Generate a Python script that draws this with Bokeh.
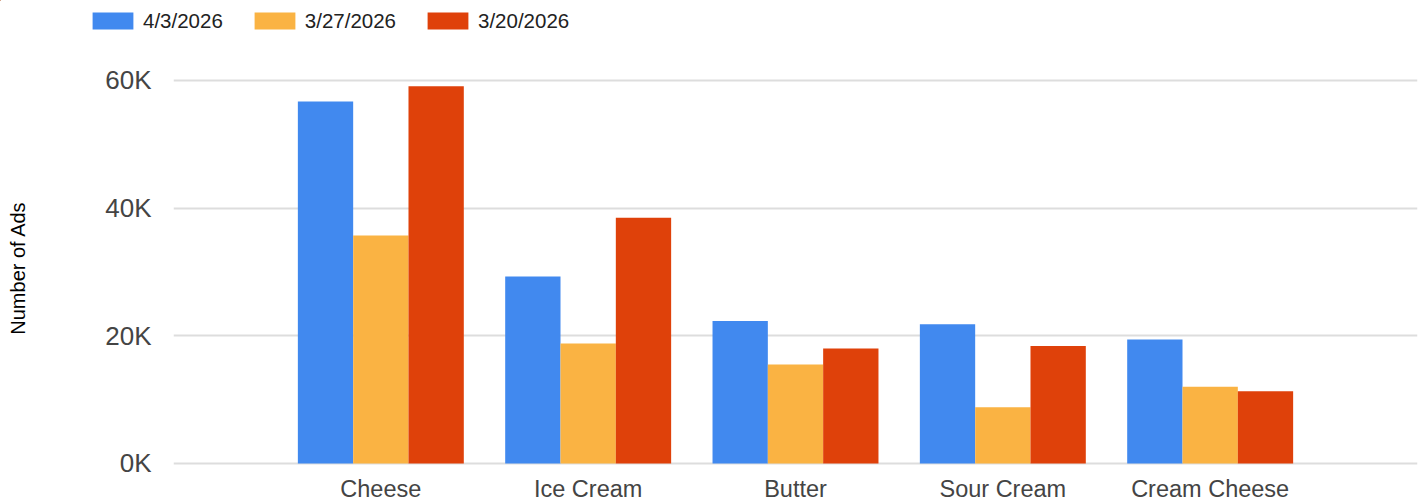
from bokeh.plotting import figure
from bokeh.layouts import column
from bokeh.models import ColumnDataSource, Range1d, FixedTicker, Legend, LegendItem, Column
from bokeh.transform import dodge
from bokeh.embed import file_html
from bokeh.resources import INLINE

categories = ["Cheese", "Ice Cream", "Butter", "Sour Cream", "Cream Cheese"]
series_names = ["4/3/2026", "3/27/2026", "3/20/2026"]
ads_apr_3 = [56700, 29300, 22300, 21800, 19400]
ads_mar_27 = [35700, 18800, 15500, 8800, 12000]
ads_mar_20 = [59100, 38500, 18000, 18400, 11300]
y_ticks = [0, 20000, 40000, 60000]
y_tick_labels = ["0K", "20K", "40K", "60K"]
colors = ["#4189EF", "#FAB343", "#DF410A"]

FONT = "Liberation Sans"

source = ColumnDataSource(dict(
    pos=list(range(len(categories))),
    a=ads_apr_3, b=ads_mar_27, c=ads_mar_20,
))
cols = ["a", "b", "c"]
bw = 0.2668
offsets = [-bw, 0.0, bw]

# ---- legend strip (top); its bar renderers sit outside its view ----
leg_fig = figure(width=1420, height=60, output_backend="svg", toolbar_location=None,
                 x_range=Range1d(100.0, 101.0), y_range=Range1d(-2.0e6, -1.0e6),
                 x_axis_location=None, y_axis_location=None, min_border=0)
leg_fig.grid.visible = False
leg_fig.outline_line_color = None
leg_renderers = []
for col, off, colr in zip(cols, offsets, colors):
    r = leg_fig.vbar(x=dodge("pos", off), top=col, bottom=0, width=bw, source=source,
                     fill_color=colr, line_color=None)
    leg_renderers.append(r)
legend = Legend(
    items=[LegendItem(label=n, renderers=[r]) for n, r in zip(series_names, leg_renderers)],
    orientation="horizontal", location=(87, 27.5),
    glyph_width=51, glyph_height=21, label_height=24, label_standoff=5, spacing=26,
    padding=0, margin=0, border_line_color=None, background_fill_alpha=0,
    label_text_font=FONT, label_text_font_size="20.5px", label_text_color="#222222",
)
leg_fig.add_layout(legend)

# ---- main chart ----
p = figure(width=1420, height=444, output_backend="svg", toolbar_location=None,
           x_range=Range1d(-1.0, 5.0), y_range=Range1d(-1894, 63131),
           min_border=0, min_border_top=0, min_border_left=173, min_border_right=3)

for col, off, colr in zip(cols, offsets, colors):
    p.vbar(x=dodge("pos", off), top=col, bottom=0, width=bw, source=source,
           fill_color=colr, line_color=None)

xa = p.xaxis[0]
xa.ticker = FixedTicker(ticks=list(range(len(categories))), minor_ticks=[])
xa.major_label_overrides = {i: c for i, c in enumerate(categories)}
xa.axis_line_color = None
xa.major_tick_line_color = None
xa.minor_tick_line_color = None
xa.major_tick_in = 0
xa.major_tick_out = 0
xa.major_label_standoff = 0
xa.major_label_text_font = FONT
xa.major_label_text_font_size = "23.5px"
xa.major_label_text_color = "#444444"

ya = p.yaxis[0]
ya.ticker = FixedTicker(ticks=y_ticks, minor_ticks=[])
ya.major_label_overrides = {t: l for t, l in zip(y_ticks, y_tick_labels)}
ya.axis_line_color = None
ya.major_tick_line_color = None
ya.minor_tick_line_color = None
ya.major_tick_in = 0
ya.major_tick_out = 0
ya.major_label_standoff = 22
ya.major_label_text_font = FONT
ya.major_label_text_font_size = "26px"
ya.major_label_text_color = "#444444"
ya.axis_label = "Number of Ads"
ya.axis_label_standoff = 73
ya.axis_label_text_font = FONT
ya.axis_label_text_font_size = "20px"
ya.axis_label_text_font_style = "normal"
ya.axis_label_text_color = "#000000"

p.xgrid.visible = False
p.ygrid.ticker = FixedTicker(ticks=y_ticks, minor_ticks=[])
p.ygrid.grid_line_color = "#dddddd"
p.ygrid.grid_line_width = 2
p.outline_line_color = None
p.background_fill_color = "white"
p.border_fill_color = "white"

layout = column(Column(children=[leg_fig], spacing=0), p, spacing=0)
open("out.html", "w").write(file_html(layout, INLINE))
